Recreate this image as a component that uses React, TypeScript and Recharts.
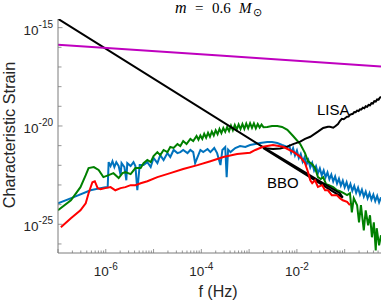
import React from 'react';
import { LineChart, Line, XAxis, YAxis } from 'recharts';

// every value is a log10: x = log10(f / Hz), y = log10(characteristic strain)
const X_LABELS = [-6, -4, -2];
const Y_LABELS = [-25, -20, -15];
const X_DOMAIN: [number, number] = [-7, -0.24];
const Y_DOMAIN: [number, number] = [-26.46, -14.56];
const X_DECADES = [-7, -6, -5, -4, -3, -2, -1];
const Y_DECADES = [-26, -25, -24, -23, -22, -21, -20, -19, -18, -17, -16, -15];

const MAGENTA = [[-7, -15.87], [-3.62, -16.42], [-0.24, -16.97]];

const LISA = [
  [-7, -14.55], [-2.71, -21.07], [-2.62, -21.15], [-2.5, -21.17], [-2.35, -21.15],
  [-2.2, -21.05], [-2.08, -20.92], [-1.93, -20.8], [-1.83, -20.66], [-1.72, -20.55],
  [-1.56, -20.29], [-1.45, -20.1], [-1.35, -20.04], [-1.31, -20.04], [-1.24, -20.09],
  [-1.19, -20.0], [-1.14, -19.9], [-1.1, -19.75], [-1.06, -19.64], [-1.02, -19.66],
  [-0.98, -19.58], [-0.95, -19.53], [-0.92, -19.52], [-0.89, -19.43], [-0.86, -19.4],
  [-0.83, -19.38], [-0.8, -19.29], [-0.77, -19.3], [-0.74, -19.22], [-0.71, -19.24],
  [-0.68, -19.15], [-0.65, -19.16], [-0.62, -19.07], [-0.59, -19.1], [-0.56, -19.0],
  [-0.53, -19.03], [-0.5, -18.93], [-0.47, -18.95], [-0.44, -18.84], [-0.41, -18.86],
  [-0.38, -18.74], [-0.35, -18.76], [-0.32, -18.65], [-0.29, -18.66], [-0.26, -18.55],
  [-0.24, -18.52],
];

const BBO = [[-2.71, -21.07], [-1.1, -23.42], [-1.04, -23.64], [-2.71, -21.12]];

const BLUE = [
  [-7, -23.93], [-6.67, -23.62], [-6.32, -23.27], [-6.01, -23.11], [-5.96, -23.11],
  [-5.94, -21.84], [-5.9, -22.04], [-5.86, -21.79], [-5.82, -22.09], [-5.78, -21.84],
  [-5.73, -22.04], [-5.69, -22.5], [-5.67, -21.89], [-5.61, -22.09], [-5.57, -22.76],
  [-5.55, -21.89], [-5.48, -22.04], [-5.42, -21.84], [-5.38, -22.04], [-5.34, -23.27],
  [-5.29, -21.99], [-5.21, -21.99], [-5.13, -21.84], [-5.06, -22.09], [-5.0, -21.63],
  [-4.92, -21.89], [-4.86, -21.48], [-4.79, -21.73], [-4.71, -21.38], [-4.65, -21.58],
  [-4.58, -21.22], [-4.5, -21.38], [-4.44, -21.33], [-4.38, -21.22], [-4.29, -21.38],
  [-4.23, -21.22], [-4.17, -21.33], [-4.13, -21.89], [-4.08, -21.58], [-4.02, -21.22],
  [-3.96, -21.33], [-3.87, -21.17], [-3.81, -21.33], [-3.73, -21.12], [-3.67, -21.38],
  [-3.6, -21.99], [-3.56, -21.22], [-3.5, -21.07], [-3.47, -22.6], [-3.44, -21.2],
  [-3.39, -21.33], [-3.29, -21.12], [-3.19, -21.02], [-3.08, -21.07], [-2.98, -20.97],
  [-2.87, -20.92], [-2.77, -20.87], [-2.62, -20.82], [-2.52, -20.82], [-2.41, -20.87],
  [-2.31, -20.97], [-2.2, -21.07], [-2.16, -21.0], [-2.12, -21.37], [-2.08, -21.13],
  [-2.04, -21.49], [-2.0, -21.25], [-1.96, -21.63], [-1.92, -21.42], [-1.88, -21.81],
  [-1.84, -21.59], [-1.8, -21.97], [-1.76, -21.74], [-1.72, -22.11], [-1.68, -21.88],
  [-1.64, -22.26], [-1.6, -22.05], [-1.56, -22.41], [-1.52, -22.16], [-1.48, -22.51],
  [-1.44, -22.26], [-1.4, -22.61], [-1.36, -22.36], [-1.32, -22.71], [-1.28, -22.47],
  [-1.24, -22.82], [-1.2, -22.57], [-1.16, -22.93], [-1.12, -22.68], [-1.08, -23.03],
  [-1.04, -22.78], [-1.0, -23.12], [-0.96, -22.86], [-0.92, -23.21], [-0.88, -22.95],
  [-0.84, -23.3], [-0.8, -23.05], [-0.76, -23.4], [-0.72, -23.14], [-0.68, -23.49],
  [-0.64, -23.24], [-0.6, -23.59], [-0.56, -23.34], [-0.52, -23.68], [-0.48, -23.42],
  [-0.44, -23.75], [-0.4, -23.49], [-0.36, -23.82], [-0.32, -23.56], [-0.28, -23.89],
  [-0.24, -23.63],
];

const GREEN = [
  [-7, -24.29], [-6.73, -23.78], [-6.53, -23.11], [-6.42, -22.5], [-6.36, -22.14],
  [-6.25, -22.09], [-6.15, -22.24], [-6.05, -22.6], [-5.94, -22.5], [-5.84, -22.4],
  [-5.73, -22.65], [-5.65, -22.4], [-5.59, -22.35], [-5.48, -22.45], [-5.38, -22.14],
  [-5.27, -22.14], [-5.21, -21.89], [-5.13, -21.73], [-5.06, -21.84], [-5.0, -21.53],
  [-4.92, -21.33], [-4.86, -21.48], [-4.79, -21.22], [-4.71, -21.33], [-4.65, -21.07],
  [-4.58, -21.12], [-4.5, -20.92], [-4.44, -21.02], [-4.38, -20.77], [-4.31, -20.92],
  [-4.23, -20.66], [-4.17, -20.77], [-4.1, -20.51], [-4.06, -20.7], [-4.02, -20.48],
  [-3.98, -20.66], [-3.94, -20.4], [-3.9, -20.6], [-3.86, -20.35], [-3.82, -20.55],
  [-3.78, -20.28], [-3.74, -20.48], [-3.7, -20.22], [-3.66, -20.42], [-3.62, -20.15],
  [-3.58, -20.36], [-3.54, -20.1], [-3.5, -20.3], [-3.46, -20.05], [-3.42, -20.26],
  [-3.38, -19.98], [-3.34, -20.22], [-3.3, -19.95], [-3.26, -20.18], [-3.22, -19.92],
  [-3.18, -20.16], [-3.14, -19.9], [-3.1, -20.15], [-3.06, -19.88], [-3.02, -20.12],
  [-2.98, -19.86], [-2.94, -20.1], [-2.9, -19.87], [-2.86, -20.12], [-2.82, -19.9],
  [-2.78, -20.08], [-2.74, -19.93], [-2.7, -20.06], [-2.62, -20.05], [-2.52, -20.0],
  [-2.41, -20.0], [-2.31, -20.05], [-2.2, -20.2], [-2.08, -20.51], [-1.93, -20.92],
  [-1.83, -21.38], [-1.77, -21.79], [-1.68, -21.94], [-1.62, -22.14], [-1.56, -22.6],
  [-1.5, -22.7], [-1.45, -22.6], [-1.39, -22.96], [-1.33, -23.01], [-1.24, -23.11],
  [-1.16, -23.27], [-1.1, -23.32], [-1.02, -23.42], [-0.95, -23.52], [-0.89, -23.42],
  [-0.85, -24.39], [-0.81, -23.67], [-0.74, -24.03], [-0.7, -24.9], [-0.66, -24.03],
  [-0.6, -25.31], [-0.56, -24.29], [-0.51, -25.05], [-0.47, -24.54], [-0.43, -25.66],
  [-0.39, -24.9], [-0.35, -26.33], [-0.33, -25.2], [-0.28, -26.07], [-0.24, -25.56],
];

const RED = [
  [-6.94, -25.15], [-6.73, -24.69], [-6.53, -24.29], [-6.42, -23.93], [-6.36, -23.42],
  [-6.28, -22.86], [-6.23, -22.81], [-6.17, -23.16], [-6.11, -23.21], [-6.01, -23.16],
  [-5.9, -23.11], [-5.8, -23.27], [-5.69, -23.16], [-5.59, -23.11], [-5.48, -23.01],
  [-5.38, -23.01], [-5.27, -22.91], [-5.13, -22.81], [-4.92, -22.6], [-4.65, -22.4],
  [-4.38, -22.19], [-4.08, -21.99], [-3.81, -21.79], [-3.54, -21.58], [-3.25, -21.43],
  [-2.98, -21.36], [-2.87, -21.22], [-2.71, -21.06], [-2.5, -20.97], [-2.29, -21.06],
  [-2.08, -21.31], [-1.93, -21.57], [-1.83, -21.89], [-1.77, -22.33], [-1.72, -22.76],
  [-1.68, -22.91], [-1.62, -22.76], [-1.56, -23.1], [-1.47, -23.01], [-1.41, -23.27],
  [-1.35, -23.27], [-1.27, -23.52], [-1.16, -23.52], [-1.1, -23.67], [-1.04, -23.78],
  [-0.95, -23.86], [-0.89, -24.03],
];

const rows = (pts: number[][]) => pts.map(([x, y]) => ({ x, y }));
const near = (a: number, b: number) => Math.abs(a - b) < 1e-9;
const isDecade = (v: number) => near(v, Math.round(v));

const X_TICKS = X_DECADES.flatMap((d) =>
  [1, 2, 3, 4, 5, 6, 7, 8, 9].map((k) => d + Math.log10(k))
).filter((v) => v >= X_DOMAIN[0] - 1e-9 && v <= X_DOMAIN[1]);

const AXIS = '#7c7c7c';
const TEXT = '#262626';
const SANS = '"Liberation Sans", Arial, Helvetica, sans-serif';
const SERIF = '"Liberation Serif", "Times New Roman", serif';

const xTick = (top: boolean) => (props: any) => {
  const { x, y, payload } = props;
  const v = payload.value;
  const len = isDecade(v) ? 4 : 2.5;
  const label = !top && X_LABELS.some((l) => near(l, v));
  return (
    <g>
      <line x1={x} x2={x} y1={y} y2={top ? y + len : y - len} stroke={AXIS} strokeWidth={0.8} />
      {label && (
        <text x={x} y={y + 23} textAnchor="middle" fontFamily={SANS} fontSize={13.5} fill={TEXT}>
          10<tspan dy={-6} fontSize={10}>{v}</tspan>
        </text>
      )}
    </g>
  );
};

const yTick = (right: boolean) => (props: any) => {
  const { x, y, payload } = props;
  const v = payload.value;
  const label = !right && Y_LABELS.some((l) => near(l, v));
  const len = label ? 4.5 : 3.5;
  return (
    <g>
      <line x1={x} x2={right ? x - len : x + len} y1={y} y2={y} stroke={AXIS} strokeWidth={0.8} />
      {label && (
        <text x={x - 5} y={y + 7} textAnchor="end" fontFamily={SANS} fontSize={13.5} fill={TEXT}>
          10<tspan dy={-7} fontSize={10}>{v}</tspan>
        </text>
      )}
    </g>
  );
};

export default function App() {
  const line = (data: number[][], color: string, key: string) => (
    <Line
      key={key}
      data={rows(data)}
      dataKey="y"
      type="linear"
      stroke={color}
      strokeWidth={2}
      dot={false}
      activeDot={false}
      isAnimationActive={false}
    />
  );
  return (
    <div style={{ position: 'absolute', left: 0, top: 0, width: 382, height: 302, background: '#fff' }}>
      <LineChart width={382} height={302} margin={{ top: 19, right: 1, bottom: 0, left: 0 }}>
        <XAxis
          dataKey="x"
          type="number"
          domain={X_DOMAIN}
          allowDataOverflow
          ticks={X_TICKS}
          interval={0}
          height={49}
          tickSize={0}
          tickMargin={0}
          tickLine={false}
          axisLine={{ stroke: AXIS }}
          tick={xTick(false)}
        />
        <XAxis
          xAxisId="top"
          orientation="top"
          dataKey="x"
          type="number"
          domain={X_DOMAIN}
          allowDataOverflow
          ticks={X_TICKS}
          interval={0}
          height={0}
          tickSize={0}
          tickMargin={0}
          tickLine={false}
          axisLine={{ stroke: AXIS }}
          tick={xTick(true)}
        />
        <YAxis
          type="number"
          domain={Y_DOMAIN}
          allowDataOverflow
          ticks={Y_DECADES}
          interval={0}
          width={58}
          tickSize={0}
          tickMargin={0}
          tickLine={false}
          axisLine={{ stroke: AXIS }}
          tick={yTick(false)}
        />
        <YAxis
          yAxisId="right"
          orientation="right"
          type="number"
          domain={Y_DOMAIN}
          allowDataOverflow
          ticks={Y_DECADES}
          interval={0}
          width={0}
          tickSize={0}
          tickMargin={0}
          tickLine={false}
          axisLine={{ stroke: AXIS }}
          tick={yTick(true)}
        />
        {line(BLUE, '#0072BD', 'blue')}
        {line(GREEN, '#008000', 'green')}
        {line(LISA, '#000000', 'lisa')}
        {line(BBO, '#000000', 'bbo')}
        {line(RED, '#ff0000', 'red')}
        {line(MAGENTA, '#bf00bf', 'magenta')}
      </LineChart>
      <svg width={382} height={302} style={{ position: 'absolute', left: 0, top: 0, pointerEvents: 'none' }}>
        <text y={13} fontFamily={SERIF} fontSize={15} fill="#000">
          <tspan x={175} fontStyle="italic" fontSize={16}>m</tspan>
          <tspan x={195}>=</tspan>
          <tspan x={212}>0.6</tspan>
          <tspan x={239} fontStyle="italic">M</tspan>
          <tspan x={253} dy={3} fontSize={11}>⊙</tspan>
        </text>
        <text x={218} y={297} textAnchor="middle" fontFamily={SANS} fontSize={16} fill={TEXT}>f (Hz)</text>
        <text
          x={14.5}
          y={135}
          transform="rotate(-90 14.5 135)"
          textAnchor="middle"
          fontFamily={SANS}
          fontSize={16.3}
          fill={TEXT}
        >
          Characteristic Strain
        </text>
        <text x={317} y={115} fontFamily={SANS} fontSize={15} fill="#000">LISA</text>
        <text x={267} y={188} fontFamily={SANS} fontSize={15} fill="#000">BBO</text>
      </svg>
    </div>
  );
}
